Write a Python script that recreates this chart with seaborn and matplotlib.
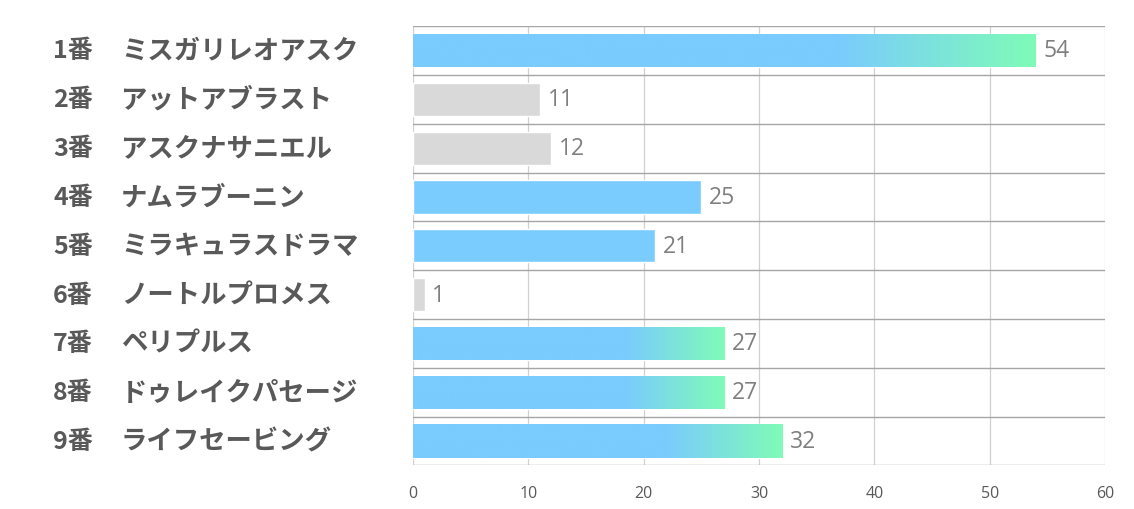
import numpy as np
import pandas as pd
import matplotlib
matplotlib.use("Agg")
import matplotlib.pyplot as plt
import seaborn as sns
from matplotlib.ticker import FixedLocator

# ---- data ----
categories = ["1番　ミスガリレオアスク", "2番　アットアブラスト", "3番　アスクナサニエル",
              "4番　ナムラブーニン", "5番　ミラキュラスドラマ", "6番　ノートルプロメス",
              "7番　ペリプルス", "8番　ドゥレイクパセージ", "9番　ライフセービング"]
values = [54, 11, 12, 25, 21, 1, 27, 27, 32]
fill_kind = ["grad", "gray", "gray", "blue", "blue", "gray", "grad", "grad", "grad"]
x_ticks = [0, 10, 20, 30, 40, 50, 60]

BLUE = "#7ACBFE"
GREEN = "#7FFBB8"
GRAY = "#D9D9D9"
palette = {"grad": BLUE, "blue": BLUE, "gray": GRAY}

sns.set_theme(style="white")
plt.rcParams['font.family'] = ['Noto Sans CJK JP', 'DejaVu Sans']

df = pd.DataFrame({"name": categories, "value": values, "kind": fill_kind})

fig = plt.figure(figsize=(11.34, 5.10), dpi=100)
ax = fig.add_axes([0.3642, 0.0853, 0.9744 - 0.3642, 0.947 - 0.0853])

sns.barplot(data=df, x="value", y="name", hue="kind", palette=palette,
            dodge=False, legend=False, width=0.68, ax=ax, saturation=1)

# gradient fills for selected bars
b = np.array(matplotlib.colors.to_rgb(BLUE))
g = np.array(matplotlib.colors.to_rgb(GREEN))
t = np.linspace(0, 1, 256)
w = np.clip((t - 0.68) / 0.32, 0, 1)
grad = (b[None, :] * (1 - w[:, None]) + g[None, :] * w[:, None])[None, :, :]

for patch in ax.patches:
    h = patch.get_height()
    if h <= 0:
        continue
    yc = patch.get_y() + h / 2
    idx = int(round(yc))
    if fill_kind[idx] == "grad":
        x0, y0 = patch.get_x(), patch.get_y()
        wd = patch.get_width()
        im = ax.imshow(grad, extent=[x0, x0 + wd, y0 + h, y0], aspect="auto",
                       zorder=patch.get_zorder() + 0.1, interpolation="bilinear")
        im.set_clip_path(patch)

ax.set_xlim(0, 60)
ax.set_ylim(len(categories) - 0.5, -0.5)

# value labels
for i, v in enumerate(values):
    ax.annotate(str(v), xy=(v, i), xytext=(5.5, 0), textcoords="offset points",
                ha="left", va="center", fontsize=16.5, color="#7F7F7F",
                family=["Open Sans", "DejaVu Sans"])

# grid
ax.xaxis.set_major_locator(FixedLocator(x_ticks))
ax.grid(axis="x", which="major", color="#D0D0D0", linewidth=0.9, zorder=0)
ax.yaxis.set_minor_locator(FixedLocator(np.arange(-0.5, len(categories), 1.0)))
ax.grid(axis="y", which="minor", color="#A6A6A6", linewidth=1.0)
ax.grid(axis="y", which="major", visible=False)
ax.set_axisbelow(True)
for s in ax.spines.values():
    s.set_visible(False)

ax.tick_params(axis="x", length=0, labelsize=11.5, labelcolor="#595959", pad=14)
for lab in ax.get_xticklabels():
    lab.set_family(["Open Sans", "DejaVu Sans"])
ax.tick_params(axis="y", which="both", length=0)
ax.set_yticklabels([])
ax.set_xlabel("")
ax.set_ylabel("")

# category labels, left aligned (number part and horse name part)
tr = matplotlib.transforms.blended_transform_factory(fig.transFigure, ax.transData)
for i, c in enumerate(categories):
    num, name = c.split("　")
    ax.text(53 / 1134, i, num, transform=tr, ha="left", va="center",
            fontsize=18, fontweight="bold", color="#595959")
    ax.text(121 / 1134, i, name, transform=tr, ha="left", va="center",
            fontsize=19, fontweight="bold", color="#595959")

fig.savefig("out.png", dpi=100, facecolor="white")
